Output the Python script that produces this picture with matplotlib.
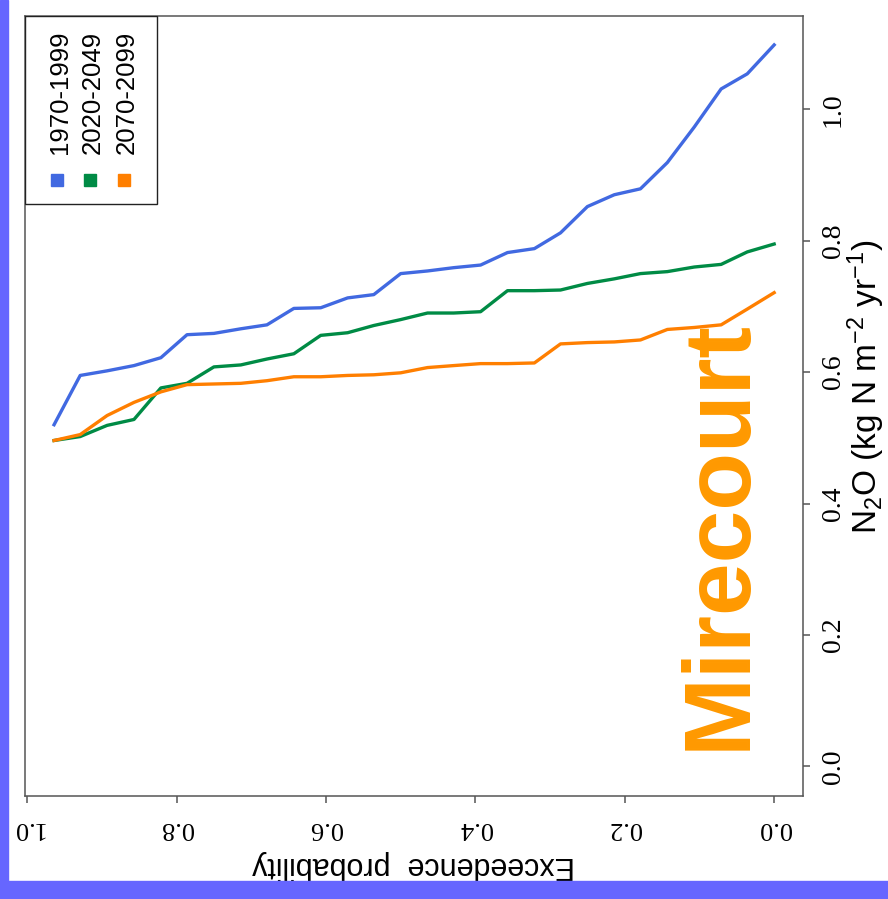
import matplotlib
matplotlib.use("Agg")
import matplotlib.pyplot as plt
from matplotlib import font_manager
from matplotlib.patches import Rectangle


# exceedance probability of each ranked year
prob = [0.964, 0.929, 0.893, 0.857, 0.821, 0.786, 0.750, 0.714, 0.679, 0.643,
        0.607, 0.571, 0.536, 0.500, 0.464, 0.429, 0.393, 0.357, 0.321, 0.286,
        0.250, 0.214, 0.179, 0.143, 0.107, 0.071, 0.036, 0.000]

n2o_1970_1999 = [0.520, 0.595, 0.602, 0.610, 0.622, 0.657, 0.659, 0.666, 0.672, 0.697,
                 0.698, 0.713, 0.718, 0.750, 0.754, 0.759, 0.763, 0.782, 0.788, 0.812,
                 0.852, 0.870, 0.879, 0.919, 0.973, 1.031, 1.054, 1.098]

n2o_2020_2049 = [0.496, 0.502, 0.519, 0.528, 0.576, 0.583, 0.608, 0.611, 0.620, 0.628,
                 0.656, 0.660, 0.671, 0.680, 0.690, 0.690, 0.692, 0.724, 0.724, 0.725,
                 0.735, 0.742, 0.750, 0.753, 0.760, 0.764, 0.783, 0.795]

n2o_2070_2099 = [0.496, 0.505, 0.534, 0.554, 0.570, 0.581, 0.582, 0.583, 0.587, 0.593,
                 0.593, 0.595, 0.596, 0.599, 0.607, 0.610, 0.613, 0.613, 0.614, 0.643,
                 0.645, 0.646, 0.649, 0.665, 0.668, 0.672, 0.696, 0.721]

periods = ['1970-1999', '2020-2049', '2070-2099']
colors = ['#4169E1', '#008B45', '#FF7F00']

x_ticks = [1.0, 0.8, 0.6, 0.4, 0.2, 0.0]
y_ticks = [0.0, 0.2, 0.4, 0.6, 0.8, 1.0]

plt.rcParams['font.family'] = ['Liberation Sans', 'DejaVu Sans']
plt.rcParams['mathtext.fontset'] = 'custom'
plt.rcParams['mathtext.rm'] = 'Liberation Sans'
plt.rcParams['mathtext.it'] = 'Liberation Sans:italic'

fig = plt.figure(figsize=(8.88, 8.99), dpi=100)

# blue frame on the left and bottom edges
frame = '#6666FF'
fig.patches.append(Rectangle((0, 0), 8 / 888, 1, transform=fig.transFigure,
                             color=frame, zorder=0))
fig.patches.append(Rectangle((0, 0), 1, 18 / 899, transform=fig.transFigure,
                             color=frame, zorder=0))

ax = fig.add_axes([25 / 888, 103 / 899, 778 / 888, 780 / 899])

series = [n2o_1970_1999, n2o_2020_2049, n2o_2070_2099]
for vals, col in zip(series, colors):
    ax.plot(prob, vals, color=col, linewidth=2.4, solid_joinstyle='round')

ax.set_xlim(1.0029, -0.0386)
ax.set_ylim(-0.045, 1.142)

for sp in ax.spines.values():
    sp.set_color('#555555')
    sp.set_linewidth(1.1)

ax.set_xticks(x_ticks)
ax.set_xticklabels([f'{v:.1f}' for v in x_ticks], rotation=180,
                   family='Liberation Serif', fontsize=19)
ax.yaxis.tick_right()
ax.set_yticks(y_ticks)
ax.set_yticklabels([f'{v:.1f}' for v in y_ticks], rotation=90, va='center',
                   family='Liberation Serif', fontsize=20)
ax.tick_params(axis='x', length=5, width=1.1, color='#555555', pad=10)
ax.tick_params(axis='y', length=5, width=1.1, color='#555555', pad=8)

ax.text(0.5, -0.069, 'Exceedence  probability', transform=ax.transAxes,
        rotation=180, ha='center', va='top', fontsize=22)
ax.text(1.081, 0.525, r'N$_2$O (kg N m$^{-2}$ yr$^{-1}$)', transform=ax.transAxes,
        rotation=90, ha='center', va='center', fontsize=24)

# legend drawn by hand, turned like the rest of the chart
ax.add_patch(Rectangle((0, 1 - 188 / 780), 132 / 778, 188 / 780, transform=ax.transAxes,
                       facecolor='white', edgecolor='#222222', linewidth=1.0, zorder=3))
leg_x = [35, 68, 102]
for lx, lab, col in zip(leg_x, periods, colors):
    ax.text(lx / 778, 1 - 76 / 780, lab, transform=ax.transAxes, rotation=90,
            ha='center', va='center', fontsize=18.5, zorder=4)
    ax.plot([(lx - 3) / 778], [1 - 164 / 780], marker='s', markersize=8.5,
            color=col, transform=ax.transAxes, zorder=4, clip_on=False)

# station name, narrow bold if available
names = {f.name for f in font_manager.fontManager.ttflist}
if 'Liberation Sans Narrow' in names:
    fam, fs = 'Liberation Sans Narrow', 77
else:
    fam, fs = 'Liberation Sans', 68
fig.text(745 / 888, 1 - 750 / 899, 'Mirecourt', rotation=90, rotation_mode='anchor',
         ha='left', va='baseline', family=fam, fontsize=fs, fontweight='bold',
         color='#FF9900')

fig.savefig('out.png', dpi=100)
